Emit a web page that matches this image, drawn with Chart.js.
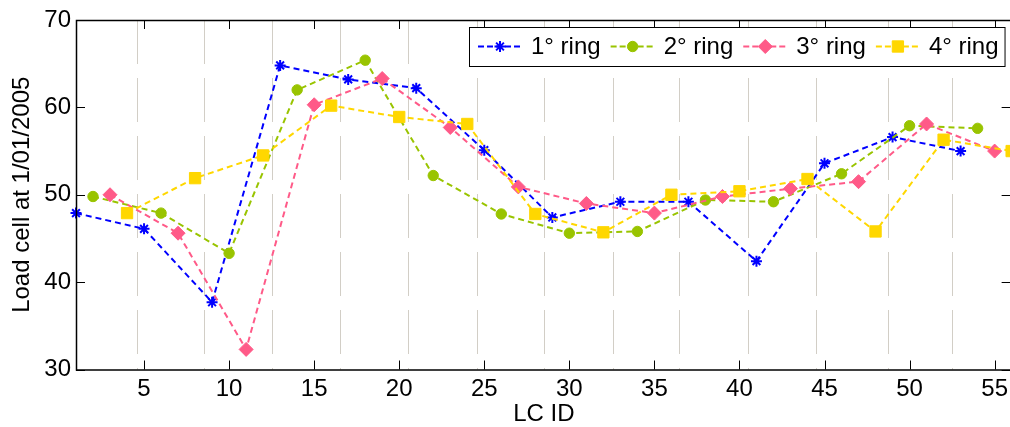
<!DOCTYPE html>
<html>
<head>
<meta charset="utf-8">
<script src="https://cdn.jsdelivr.net/npm/chart.js@4.4.1/dist/chart.umd.min.js"></script>
<style>
  html, body { margin: 0; padding: 0; background: #fff; overflow: hidden; }
  #wrap { width: 1010px; height: 427px; overflow: hidden; }
  #lcChart { display: block; }
</style>
</head>
<body>
<div id="wrap"><canvas id="lcChart" width="1013" height="427"></canvas></div>
<script>
// load cell ids for each ring
const ring1Ids = [1, 5, 9, 13, 17, 21, 25, 29, 33, 37, 41, 45, 49, 53];
const ring2Ids = [2, 6, 10, 14, 18, 22, 26, 30, 34, 38, 42, 46, 50, 54];
const ring3Ids = [3, 7, 11, 15, 19, 23, 27, 31, 35, 39, 43, 47, 51, 55];
const ring4Ids = [4, 8, 12, 16, 20, 24, 28, 32, 36, 40, 44, 48, 52, 56];

// readings at 1/01/2005
const ring1Load = [47.9, 46.1, 37.7, 64.8, 63.2, 62.2, 55.1, 47.4, 49.2, 49.2, 42.4, 53.6, 56.6, 55.0];
const ring2Load = [49.8, 47.9, 43.3, 62.0, 65.4, 52.2, 47.8, 45.6, 45.8, 49.4, 49.2, 52.4, 57.9, 57.6];
const ring3Load = [50.0, 45.6, 32.3, 60.3, 63.3, 57.7, 50.9, 49.0, 47.9, 49.8, 50.7, 51.5, 58.1, 55.0];
const ring4Load = [47.9, 51.9, 54.5, 60.2, 58.9, 58.1, 47.8, 45.7, 50.0, 50.4, 51.8, 45.8, 56.3, 55.0];

const seriesLabels = ['1° ring', '2° ring', '3° ring', '4° ring'];
const xTickValues = [5, 10, 15, 20, 25, 30, 35, 40, 45, 50, 55];
const yTickValues = [30, 40, 50, 60, 70];
// gray dashed separators between groups
const groupEdges = [4.6, 8.55, 12.55, 16.55, 20.55, 24.6, 28.55, 32.6, 36.5, 40.55, 44.5, 48.75, 52.5];

const FONT = 'Arial, "Liberation Sans", Helvetica, sans-serif';
const BLUE = '#0000ff';
const GREEN = '#99c400';
const PINK = '#ff5a88';
const YELLOW = '#ffd700';

function toPoints(ids, vals) {
    return ids.map((id, i) => ({ x: id, y: vals[i] }));
}

function makeSeries(label, ids, vals, color, style, radius, pbw, order) {
    return {
        label: label,
        data: toPoints(ids, vals),
        borderColor: color,
        backgroundColor: color,
        borderWidth: 2,
        borderDash: [6, 4],
        tension: 0,
        fill: false,
        pointStyle: style,
        pointRadius: radius,
        pointBorderWidth: pbw,
        pointBackgroundColor: color,
        pointBorderColor: color,
        clip: false,
        order: order
    };
}

const datasets = [
    makeSeries(seriesLabels[0], ring1Ids, ring1Load, BLUE, 'star', 5.5, 2, 3),
    makeSeries(seriesLabels[1], ring2Ids, ring2Load, GREEN, 'circle', 5.2, 1, 2),
    makeSeries(seriesLabels[2], ring3Ids, ring3Load, PINK, 'rectRot', 7, 1, 1),
    makeSeries(seriesLabels[3], ring4Ids, ring4Load, YELLOW, 'rect', 8, 1, 0)
];

// frame, inward tick marks and the boxed legend
const framePlugin = {
    id: 'frame',
    afterDraw(chart) {
        const { ctx, chartArea: a, scales } = chart;
        ctx.save();
        ctx.strokeStyle = '#000';
        ctx.lineWidth = 1;
        ctx.setLineDash([]);
        ctx.beginPath();
        xTickValues.forEach(v => {
            const px = Math.round(scales.x.getPixelForValue(v)) + 0.5;
            ctx.moveTo(px, a.bottom); ctx.lineTo(px, a.bottom - 9);
            ctx.moveTo(px, a.top); ctx.lineTo(px, a.top + 9);
        });
        yTickValues.forEach(v => {
            const py = Math.round(scales.y.getPixelForValue(v)) + 0.5;
            ctx.moveTo(a.left, py); ctx.lineTo(a.left + 9, py);
            ctx.moveTo(a.right, py); ctx.lineTo(a.right - 10, py);
        });
        ctx.stroke();
        ctx.lineWidth = 1.5;
        ctx.strokeRect(a.left + 0.5, a.top + 0.5, a.right - a.left, a.bottom - a.top);

        // legend
        ctx.font = '24px ' + FONT;
        const sampleW = 44, gapText = 9, gapEntry = 10, padL = 9, padR = 6;
        const widths = chart.data.datasets.map(d => ctx.measureText(d.label).width);
        let boxW = padL + padR + gapEntry * (widths.length - 1);
        widths.forEach(w => { boxW += sampleW + gapText + w; });
        const boxH = 39;
        const boxR = a.right - 7;
        const boxL = Math.round(boxR - boxW);
        const boxT = a.top + 7;
        ctx.fillStyle = '#fff';
        ctx.fillRect(boxL, boxT, boxW, boxH);
        ctx.lineWidth = 1;
        ctx.strokeStyle = '#000';
        ctx.strokeRect(boxL + 0.5, boxT + 0.5, boxW, boxH);
        const cy = boxT + boxH / 2;
        let x = boxL + padL;
        chart.data.datasets.forEach((d, i) => {
            ctx.strokeStyle = d.borderColor;
            ctx.lineWidth = 2;
            ctx.setLineDash([6, 3]);
            ctx.beginPath();
            ctx.moveTo(x, cy); ctx.lineTo(x + sampleW, cy);
            ctx.stroke();
            ctx.setLineDash([]);
            ctx.fillStyle = d.pointBackgroundColor;
            ctx.strokeStyle = d.pointBorderColor;
            ctx.lineWidth = d.pointBorderWidth;
            Chart.helpers.drawPoint(ctx, {
                pointStyle: d.pointStyle, radius: d.pointRadius, rotation: 0, borderWidth: d.pointBorderWidth
            }, x + sampleW / 2, cy);
            ctx.fillStyle = '#000';
            ctx.textBaseline = 'middle';
            ctx.textAlign = 'left';
            ctx.fillText(d.label, x + sampleW + gapText, cy + 1);
            x += sampleW + gapText + widths[i] + gapEntry;
        });
        ctx.restore();
    }
};

const ctx = document.getElementById('lcChart').getContext('2d');
const lcChart = new Chart(ctx, {
    type: 'line',
    data: { datasets: datasets },
    plugins: [framePlugin],
    options: {
        responsive: false,
        animation: false,
        devicePixelRatio: 1,
        layout: { autoPadding: false, padding: { top: 20, right: 0, bottom: 0, left: 0 } },
        plugins: {
            legend: { display: false },
            title: { display: false },
            tooltip: { enabled: false }
        },
        scales: {
            x: {
                type: 'linear',
                position: 'bottom',
                min: 1,
                max: 56,
                afterBuildTicks: (scale) => { scale.ticks = xTickValues.map(v => ({ value: v })); },
                afterFit: (scale) => { scale.height = 57.5; },
                grid: { display: false, drawTicks: false },
                border: { display: false },
                ticks: {
                    autoSkip: false, maxRotation: 0, padding: 5,
                    color: '#000', font: { family: FONT, size: 24 }
                },
                title: {
                    display: true, text: 'LC ID', color: '#000',
                    font: { family: FONT, size: 24 }, padding: { top: 0, bottom: -2 }
                }
            },
            xGroups: {
                type: 'linear',
                position: 'top',
                min: 1,
                max: 56,
                afterBuildTicks: (scale) => { scale.ticks = groupEdges.map(v => ({ value: v })); },
                afterFit: (scale) => { scale.height = 0; },
                grid: { display: true, drawTicks: false, color: '#d2cec6', lineWidth: 1 },
                border: { display: false, dash: [44, 14] },
                ticks: { display: false }
            },
            y: {
                min: 30,
                max: 70,
                afterBuildTicks: (scale) => { scale.ticks = yTickValues.map(v => ({ value: v })); },
                afterFit: (scale) => { scale.width = 76; },
                grid: { display: false, drawTicks: false },
                border: { display: false },
                ticks: { padding: 5, color: '#000', font: { family: FONT, size: 24 } },
                title: {
                    display: true, text: 'Load cell at 1/01/2005', color: '#000',
                    font: { family: FONT, size: 24 }, padding: { top: 8, bottom: 0 }
                }
            }
        }
    }
});
</script>
</body>
</html>
